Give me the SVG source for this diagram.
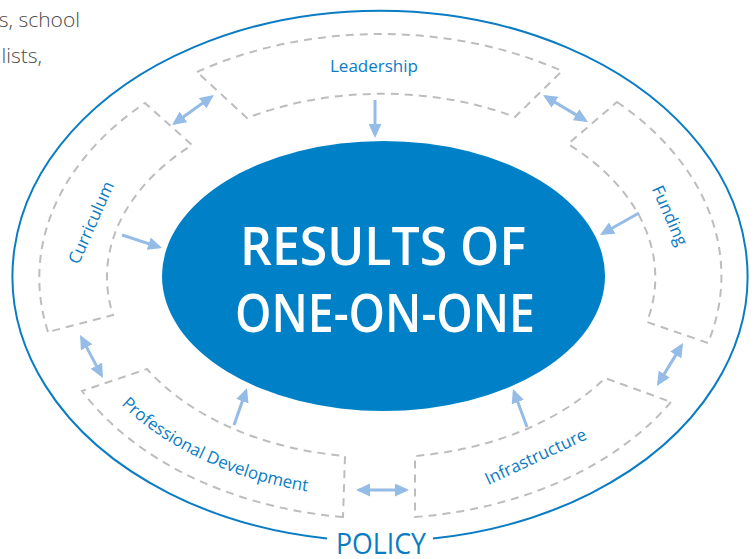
<svg xmlns="http://www.w3.org/2000/svg" width="755" height="559" viewBox="0 0 755 559">
<style>
.seg{fill:none;stroke:#bdbdbd;stroke-width:2;stroke-dasharray:8 6}
.lbl{font-family:"Open Sans","Noto Sans","Liberation Sans",sans-serif;font-size:17px;fill:#0a7cc4}
.arr{fill:none;stroke:#94bce6;stroke-width:3}
.bg{font-family:"Open Sans","Liberation Sans",sans-serif;font-weight:300;font-size:21px;fill:#4a4a4a}
</style>
<defs>
<marker id="ah" viewBox="0 0 14 13" refX="11" refY="6.5" markerWidth="14" markerHeight="13" markerUnits="userSpaceOnUse" orient="auto-start-reverse">
<path d="M0 0 L14 6.5 L0 13 Z" fill="#94bce6"/>
</marker>
<path id="pdpath" d="M 121 404.5 A 318 222 0 0 0 345 496"/>
</defs>
<rect width="755" height="559" fill="#ffffff"/>
<g id="page-text">
<text class="bg" x="80" y="27" text-anchor="end">s, school</text>
<text class="bg" x="42" y="63" text-anchor="end">lists,</text>
</g>
<g id="node-policy">
<path d="M 327 538.5 A 367.5 265.3 0 1 1 433 538.5" fill="none" stroke="#0a7cc4" stroke-width="2"/>
<text x="381" y="554" text-anchor="middle" font-family="Open Sans, Noto Sans, Liberation Sans, sans-serif" font-size="30" fill="#0a7cc4" textLength="90" lengthAdjust="spacingAndGlyphs">POLICY</text>
</g>
<g id="node-leadership">
<path class="seg" d="M 197 72 A 341 241.5 0 0 1 562 71 L 515 117 A 271 181.5 0 0 0 247 118 Z"/>
<text class="lbl" x="374" y="72" text-anchor="middle">Leadership</text>
</g>
<g id="node-funding">
<path class="seg" d="M 617 102 A 341 241.5 0 0 1 708 343 L 647 322 A 271 181.5 0 0 0 568 144 Z"/>
<text class="lbl" transform="translate(664.5 218) rotate(66)" text-anchor="middle">Funding</text>
</g>
<g id="node-infrastructure">
<path class="seg" d="M 671 402 A 341 241.5 0 0 1 415 517 L 415 456 A 271 181.5 0 0 0 605 378 Z"/>
<text class="lbl" transform="translate(538 462) rotate(-25)" text-anchor="middle">Infrastructure</text>
</g>
<g id="node-professional-development">
<path class="seg" d="M 343 517 A 341 241.5 0 0 1 82 391 L 147 369 A 271 181.5 0 0 0 345 456 Z"/>
<text class="lbl"><textPath href="#pdpath">Professional Development</textPath></text>
</g>
<g id="node-curriculum">
<path class="seg" d="M 48 332 A 341 241.5 0 0 1 145 103 L 192 145 A 271 181.5 0 0 0 113 315 Z"/>
<text class="lbl" transform="translate(96.5 225) rotate(-66)" text-anchor="middle">Curriculum</text>
</g>
<g id="node-results">
<ellipse cx="383.5" cy="276" rx="221.5" ry="135" fill="#0080c6"/>
<text x="383" y="265" text-anchor="middle" font-family="Open Sans, Noto Sans, Liberation Sans, sans-serif" font-weight="600" font-size="52" fill="#ffffff" textLength="286" lengthAdjust="spacingAndGlyphs">RESULTS OF</text>
<text x="385" y="332" text-anchor="middle" font-family="Open Sans, Noto Sans, Liberation Sans, sans-serif" font-weight="600" font-size="52" fill="#ffffff" textLength="300" lengthAdjust="spacingAndGlyphs">ONE-ON-ONE</text>
</g>
<g id="connectors">
<line class="arr" x1="375" y1="100" x2="375" y2="135" marker-end="url(#ah)"/>
<line class="arr" x1="122" y1="235" x2="159.2" y2="247.1" marker-end="url(#ah)"/>
<line class="arr" x1="639" y1="213" x2="602.6" y2="233.5" marker-end="url(#ah)"/>
<line class="arr" x1="527" y1="427" x2="514" y2="391.8" marker-end="url(#ah)"/>
<line class="arr" x1="234" y1="425" x2="246" y2="390.8" marker-end="url(#ah)"/>
<line class="arr" x1="174.5" y1="123.3" x2="211.5" y2="96.8" marker-start="url(#ah)" marker-end="url(#ah)"/>
<line class="arr" x1="545.6" y1="96.6" x2="585.4" y2="120.4" marker-start="url(#ah)" marker-end="url(#ah)"/>
<line class="arr" x1="81.5" y1="337.6" x2="101.5" y2="375.4" marker-start="url(#ah)" marker-end="url(#ah)"/>
<line class="arr" x1="681.5" y1="345.6" x2="658.5" y2="383.4" marker-start="url(#ah)" marker-end="url(#ah)"/>
<line class="arr" x1="359" y1="490" x2="406" y2="490" marker-start="url(#ah)" marker-end="url(#ah)"/>
</g>
</svg>
